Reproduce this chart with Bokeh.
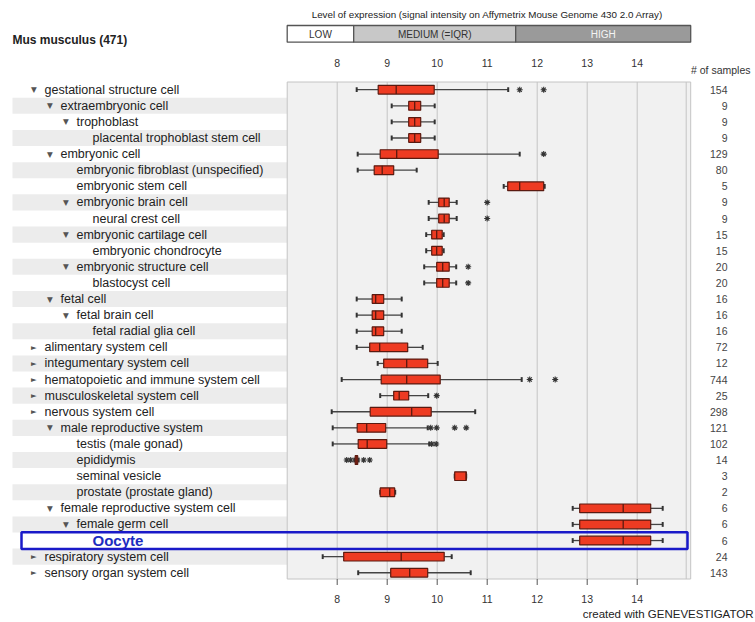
from bokeh.plotting import figure
from bokeh.models import Range1d
from bokeh.core.properties import value
from bokeh.embed import file_html
from bokeh.resources import INLINE

# ---------------- data ----------------
labels = [
    "gestational structure cell", "extraembryonic cell", "trophoblast",
    "placental trophoblast stem cell", "embryonic cell",
    "embryonic fibroblast (unspecified)", "embryonic stem cell",
    "embryonic brain cell", "neural crest cell", "embryonic cartilage cell",
    "embryonic chondrocyte", "embryonic structure cell", "blastocyst cell",
    "fetal cell", "fetal brain cell", "fetal radial glia cell",
    "alimentary system cell", "integumentary system cell",
    "hematopoietic and immune system cell", "musculoskeletal system cell",
    "nervous system cell", "male reproductive system", "testis (male gonad)",
    "epididymis", "seminal vesicle", "prostate (prostate gland)",
    "female reproductive system cell", "female germ cell", "Oocyte",
    "respiratory system cell", "sensory organ system cell",
]
levels = [0, 1, 2, 3, 1, 2, 2, 2, 3, 2, 3, 2, 3, 1, 2, 3,
          0, 0, 0, 0, 0, 1, 2, 2, 2, 2, 1, 2, 3, 0, 0]
node = ["open", "open", "open", "leaf", "open", "leaf", "leaf", "open", "leaf",
        "open", "leaf", "open", "leaf", "open", "open", "leaf",
        "closed", "closed", "closed", "closed", "closed",
        "open", "leaf", "leaf", "leaf", "leaf", "open", "open", "leaf",
        "closed", "closed"]
counts = [154, 9, 9, 9, 129, 80, 5, 9, 9, 15, 15, 20, 20, 16, 16, 16,
          72, 12, 744, 25, 298, 121, 102, 14, 3, 2, 6, 6, 6, 24, 143]

whisk_lo = [8.39, 9.09, 9.09, 9.09, 8.41, 8.41, 11.33, 9.83, 9.83, 9.78, 9.78,
            9.74, 9.74, 8.39, 8.39, 8.39, 8.39, 8.81, 8.09, 8.86, 7.89,
            7.91, 7.91, 8.34, 10.35, 8.86, 12.71, 12.71, 12.71, 7.71, 8.42]
q1 = [8.82, 9.43, 9.43, 9.43, 8.86, 8.74, 11.41, 10.03, 10.03, 9.89, 9.89,
      9.99, 9.99, 8.70, 8.70, 8.70, 8.65, 8.93, 8.88, 9.13, 8.66,
      8.40, 8.42, 8.36, 10.35, 8.86, 12.85, 12.85, 12.85, 8.13, 9.07]
median = [9.18, 9.55, 9.55, 9.55, 9.19, 8.90, 11.65, 10.14, 10.14, 9.99, 9.99,
          10.11, 10.11, 8.77, 8.77, 8.77, 8.85, 9.39, 9.39, 9.24, 9.49,
          8.59, 8.60, 8.38, 10.58, 9.05, 13.72, 13.72, 13.72, 9.28, 9.45]
q3 = [9.94, 9.67, 9.67, 9.67, 10.02, 9.13, 12.13, 10.24, 10.24, 10.10, 10.10,
      10.24, 10.24, 8.93, 8.93, 8.93, 9.41, 9.81, 10.06, 9.43, 9.88,
      8.97, 8.99, 8.41, 10.58, 9.15, 14.27, 14.27, 14.27, 10.14, 9.81]
whisk_hi = [11.42, 9.95, 9.95, 9.95, 11.65, 9.59, 12.15, 10.39, 10.39, 10.13, 10.13,
            10.38, 10.38, 9.29, 9.29, 9.29, 9.71, 10.01, 11.69, 9.82, 10.76,
            9.81, 9.84, 8.43, 10.58, 9.16, 14.51, 14.51, 14.51, 10.29, 10.67]

outlier_rows = [0, 0, 4, 7, 8, 11, 12, 18, 18, 19, 21, 21, 21, 21, 22, 22, 23, 23, 23, 23]
outlier_vals = [11.65, 12.13, 12.13, 11.0, 11.0, 10.62, 10.62, 11.85, 12.36, 9.99,
                9.87, 9.99, 10.35, 10.58, 9.89, 9.98, 8.19, 8.27, 8.53, 8.65]

ticks = [8, 9, 10, 11, 12, 13, 14]
tick_labels = ["8", "9", "10", "11", "12", "13", "14"]

level_names = ["LOW", "MEDIUM (=IQR)", "HIGH"]
level_bounds = [7.0, 8.33, 11.57, 15.07]
level_fill = ["#ffffff", "#c8c8c8", "#9a9a9a"]
level_text = ["#333333", "#333333", "#f4f4f4"]

highlight = "Oocyte"
title_text = "Mus musculus (471)"
header_text = "Level of expression (signal intensity on Affymetrix Mouse Genome 430 2.0 Array)"

# ---------------- layout ----------------
W, H = 755, 622
FONT = value("Liberation Sans")
n = len(labels)
rows = list(range(n))

p = figure(width=W, height=H, output_backend="svg", toolbar_location=None,
           x_range=Range1d(1.266, 16.366), y_range=Range1d(33.09, -5.54),
           x_axis_location=None, y_axis_location=None, min_border=0,
           outline_line_color=None, background_fill_color="white",
           border_fill_color="white")
p.grid.visible = False
p.extra_x_ranges = {"px": Range1d(0, W)}
p.extra_y_ranges = {"py": Range1d(H, 0)}

# label stripes
odd = [r for r in rows if r % 2 == 1]
p.quad(left=[12] * len(odd), right=[287] * len(odd),
       top=[r - 0.5 for r in odd], bottom=[r + 0.5 for r in odd],
       x_range_name="px", fill_color="#ececec", line_color=None)

# plot background
p.quad(left=[level_bounds[0]], right=[level_bounds[-1]], top=[81.5], bottom=[578.5],
       y_range_name="py", fill_color="#f1f1f1", line_color="#c4c4c4", line_width=1)
p.segment(x0=[14.98], y0=[81.5], x1=[14.98], y1=[578.5], y_range_name="py",
          line_color="#c4c4c4", line_width=1)

# gridlines and bottom ticks
p.segment(x0=ticks, y0=[81.5] * len(ticks), x1=ticks, y1=[578.5] * len(ticks),
          y_range_name="py", line_color="#c4c4c4", line_width=1)
p.segment(x0=ticks, y0=[578.5] * len(ticks), x1=ticks, y1=[584.5] * len(ticks),
          y_range_name="py", line_color="#555555", line_width=1)

# tick labels top and bottom
for ty in (62, 598):
    p.text(x=ticks, y=[ty] * len(ticks), text=tick_labels, y_range_name="py",
           text_font=FONT, text_font_size="10.5px", text_color="#333333",
           text_align="center", text_baseline="middle")

# legend bar
for i, nm in enumerate(level_names):
    p.quad(left=[level_bounds[i]], right=[level_bounds[i + 1]], top=[25], bottom=[41.7],
           y_range_name="py", fill_color=level_fill[i], line_color="#555555", line_width=1.3)
    p.text(x=[(level_bounds[i] + level_bounds[i + 1]) / 2], y=[33.6], text=[nm],
           y_range_name="py", text_font=FONT, text_font_size="10px",
           text_color=level_text[i], text_align="center", text_baseline="middle")

p.text(x=[487], y=[14], text=[header_text], x_range_name="px", y_range_name="py",
       text_font=FONT, text_font_size="9.8px", text_color="#222222",
       text_align="center", text_baseline="middle")
p.text(x=[12], y=[39.5], text=[title_text], x_range_name="px", y_range_name="py",
       text_font=FONT, text_font_size="12px", text_font_style="bold",
       text_color="#222222", text_align="left", text_baseline="middle")
p.text(x=[750], y=[69], text=["# of samples"], x_range_name="px", y_range_name="py",
       text_font=FONT, text_font_size="10.5px", text_color="#333333",
       text_align="right", text_baseline="middle")
p.text(x=[753], y=[613], text=["created with GENEVESTIGATOR"], x_range_name="px",
       y_range_name="py", text_font=FONT, text_font_size="11.5px",
       text_color="#222222", text_align="right", text_baseline="middle")

# row labels
norm = [r for r in rows if labels[r] != highlight]
p.text(x=[44 + 16 * levels[r] for r in norm], y=norm, text=[labels[r] for r in norm],
       x_range_name="px", text_font=FONT, text_font_size="12.5px",
       text_color="#222222", text_align="left", text_baseline="middle")
hl = [r for r in rows if labels[r] == highlight]
p.text(x=[44 + 16 * levels[r] for r in hl], y=hl, text=[labels[r] for r in hl],
       x_range_name="px", text_font=FONT, text_font_size="15px", text_font_style="bold",
       text_color="#1c2cc0", text_align="left", text_baseline="middle")
tri = [r for r in rows if node[r] != "leaf"]
p.text(x=[44 + 16 * levels[r] - 10.5 for r in tri], y=tri,
       text=["\u25BC" if node[r] == "open" else "\u25BA" for r in tri],
       x_range_name="px", text_font=value("DejaVu Sans"), text_font_size="7.5px",
       text_color="#555555", text_align="center", text_baseline="middle")

# sample counts
p.text(x=[727] * n, y=rows, text=[str(c) for c in counts], x_range_name="px",
       text_font=FONT, text_font_size="10.5px", text_color="#444444",
       text_align="right", text_baseline="middle")

# box plots
bh, ch = 0.27, 0.15
p.segment(x0=whisk_lo, y0=rows, x1=q1, y1=rows, line_color="#444444", line_width=1.3)
p.segment(x0=q3, y0=rows, x1=whisk_hi, y1=rows, line_color="#444444", line_width=1.3)
p.segment(x0=whisk_lo, y0=[r - ch for r in rows], x1=whisk_lo, y1=[r + ch for r in rows],
          line_color="#333333", line_width=2)
p.segment(x0=whisk_hi, y0=[r - ch for r in rows], x1=whisk_hi, y1=[r + ch for r in rows],
          line_color="#333333", line_width=2)
p.quad(left=q1, right=q3, top=[r - bh for r in rows], bottom=[r + bh for r in rows],
       fill_color="#ee3b22", line_color="#5a1a10", line_width=1.2)
p.segment(x0=median, y0=[r - bh for r in rows], x1=median, y1=[r + bh for r in rows],
          line_color="#5a1a10", line_width=1.3)
p.scatter(x=outlier_vals, y=outlier_rows, marker="asterisk", size=6,
          line_color="#333333", line_width=1.1)

# highlight frame
p.quad(left=[21], right=[687], top=[r - 0.52 for r in hl], bottom=[r + 0.52 for r in hl],
       x_range_name="px", fill_color=None, line_color="#1a1ac8", line_width=2.5)

open("out.html", "w").write(file_html(p, INLINE))
